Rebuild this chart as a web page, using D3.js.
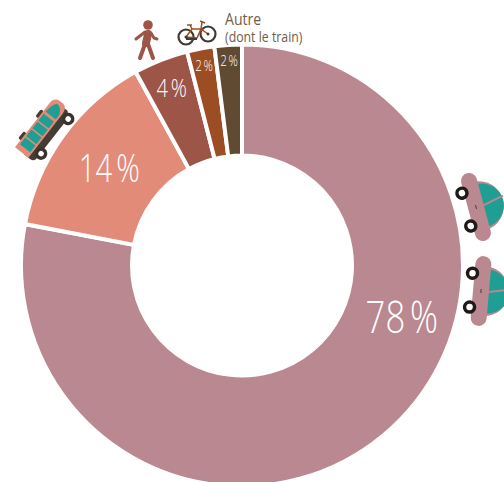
<!DOCTYPE html>
<html>
<head>
<meta charset="utf-8">
<script src="https://cdn.jsdelivr.net/npm/d3@7"></script>
<style>
html, body { margin: 0; padding: 0; background: #fff; }
svg { display: block; }
text { font-family: "Open Sans", sans-serif; font-weight: 300; }
</style>
</head>
<body>
<svg id="chart" width="504" height="482"></svg>
<script>
const categories = ["Voiture", "Bus", "Marche", "Vélo", "Autre"];
const shares = [78, 14, 4, 2, 2];
const labels = ["78 %", "14 %", "4 %", "2 %", "2 %"];
const colors = ["#b98890", "#e28b79", "#9d5547", "#9c4d24", "#604a32"];
const labelSizes = [45, 38, 26, 15, 15];
const labelRadius = [168, 164, 191, 203, 205];

const cx = 242, cy = 265.5, outer = 221, inner = 110;

const svg = d3.select("#chart");
const g = svg.append("g").attr("transform", "translate(" + cx + "," + cy + ")");

const pie = d3.pie().sort(null).value(function(d) { return d; });
const arcs = pie(shares);
const arc = d3.arc().innerRadius(inner).outerRadius(outer);

g.selectAll(".slice")
    .data(arcs)
    .enter().append("path")
    .attr("class", "slice")
    .attr("d", arc)
    .attr("fill", function(d, i) { return colors[i]; })
    .attr("stroke", "#fff")
    .attr("stroke-width", 4);

g.selectAll(".pct")
    .data(arcs)
    .enter().append("text")
    .attr("class", "pct")
    .attr("transform", function(d, i) {
        // the big slice has its label up on the right, not at mid angle
        let a = i === 0 ? 108 * Math.PI / 180 : (d.startAngle + d.endAngle) / 2;
        let r = labelRadius[i];
        return "translate(" + (r * Math.sin(a)) + "," + (-r * Math.cos(a)) + ") scale(0.77,1)";
    })
    .attr("text-anchor", "middle")
    .attr("dy", "0.35em")
    .attr("fill", "#fff")
    .attr("word-spacing", function(d, i) { return -labelSizes[i] * 0.12; })
    .attr("font-size", function(d, i) { return labelSizes[i]; })
    .text(function(d, i) { return labels[i]; });

// caption of the last slice
const note = svg.append("text").attr("transform", "translate(225,25) scale(0.88,1)").attr("fill", "#6f5c48").style("font-weight", 400);
note.append("tspan").attr("x", 0).attr("font-size", 16).text("Autre");
note.append("tspan").attr("x", 0).attr("dy", 17).attr("font-size", 14).text("(dont le train)");

// pedestrian
const walker = svg.append("g").attr("transform", "translate(148,25)").attr("fill", "none").attr("stroke", "#9d5547").attr("stroke-linecap", "round").attr("stroke-linejoin", "round");
walker.append("circle").attr("r", 4.8).attr("fill", "#9d5547").attr("stroke", "none");
walker.append("path").attr("d", "M0,9 L-2,18").attr("stroke-width", 8);
walker.append("path").attr("d", "M-3,7 L-12,14 M3,8 L6,13 L9,14").attr("stroke-width", 3);
walker.append("path").attr("d", "M-3,19 L-8,33 M0,19 L5,33").attr("stroke-width", 4);

// bicycle
const bike = svg.append("g").attr("transform", "translate(197,35)").attr("fill", "none");
bike.selectAll(".wheel").data([-11, 11]).enter().append("circle")
    .attr("cx", function(d) { return d; }).attr("cy", function(d) { return d < 0 ? 2 : -1; }).attr("r", 7.5)
    .attr("stroke", "#3f3a33").attr("stroke-width", 2.2);
bike.append("path").attr("d", "M-11,2 L-5,-6 L4,-6 L0,3 Z M-5,-6 L-7,-10 M-10,-10 L-5,-10 M4,-6 L11,-1 M3,-14 L8,-12 M5,-13 L4,-6")
    .attr("stroke", "#9c4d24").attr("stroke-width", 1.5);
bike.append("path").attr("d", "M-11,4 L0,4").attr("stroke", "#3f3a33").attr("stroke-width", 2);
bike.append("circle").attr("cx", -11).attr("cy", 2).attr("r", 1.5).attr("fill", "#3f3a33");
bike.append("circle").attr("cx", 11).attr("cy", -1).attr("r", 1.5).attr("fill", "#3f3a33");

// bus, drawn upright then rotated along the ring
const bus = svg.append("g").attr("transform", "translate(44,128) rotate(38)");
bus.selectAll(".mirror").data([-13, 15]).enter().append("rect")
    .attr("x", -14).attr("y", function(d) { return d; }).attr("width", 4).attr("height", 9).attr("rx", 1.5).attr("fill", "#453d35");
bus.append("path").attr("d", "M0,-28 L8,-28 Q13,-24 13,-18 L13,28 Q13,33 8,33 L0,33 Z").attr("fill", "#453d35");
bus.append("path").attr("d", "M-5,-31 L0,-31 Q6,-30 6,-22 L6,33 L-11,33 L-11,-22 Q-11,-30 -5,-31 Z").attr("fill", "#e28b79");
bus.selectAll(".win").data([-11, -1, 9, 19]).enter().append("rect")
    .attr("x", -9).attr("y", function(d) { return d; }).attr("width", 13).attr("height", 8.5).attr("fill", "#1f9f94");
bus.append("path").attr("d", "M-9,-14 L4,-14 L4,-20 Q0,-28 -5,-27 Q-8,-24 -9,-14 Z").attr("fill", "#1f9f94");
bus.selectAll(".tyre").data([-22, 22]).enter().append("circle")
    .attr("cx", 13.5).attr("cy", function(d) { return d; }).attr("r", 4.5).attr("fill", "#fff").attr("stroke", "#3a332d").attr("stroke-width", 3.5);

// the two cars
function drawCar(x, y, angle) {
    const car = svg.append("g").attr("transform", "translate(" + x + "," + y + ") rotate(" + angle + ")");
    car.append("path").attr("d", "M3,-25 A25,25 0 0 1 3,25 Z").attr("fill", "#b98890");
    car.append("path").attr("d", "M6,-22 A22,22 0 0 1 6,22 Z").attr("fill", "#1f9f94");
    car.append("path").attr("d", "M4,1 L29,-4").attr("stroke", "#b98890").attr("stroke-width", 1.8);
    car.append("rect").attr("x", -8).attr("y", -35).attr("width", 16).attr("height", 70).attr("rx", 8).attr("fill", "#b98890");
    car.append("path").attr("d", "M0,-2 L0,2").attr("stroke", "#453d35").attr("stroke-width", 1);
    car.selectAll(".tyre").data([-17, 17]).enter().append("circle")
        .attr("cx", -10).attr("cy", function(d) { return d; }).attr("r", 5).attr("fill", "#fff").attr("stroke", "#1f1a18").attr("stroke-width", 3.5);
}
drawCar(476, 207, -15);
drawCar(481, 291, 5);
</script>
</body>
</html>
